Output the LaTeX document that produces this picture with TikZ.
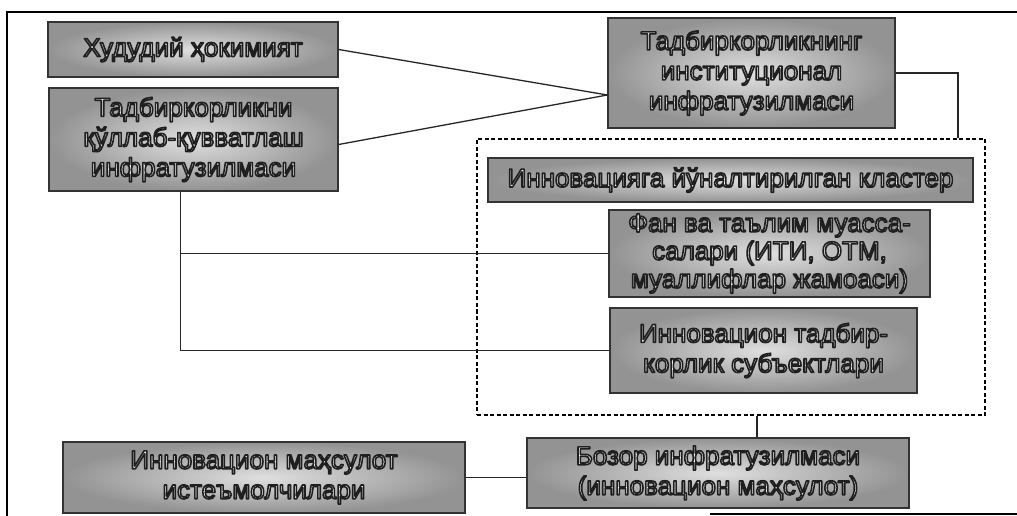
\documentclass[tikz,border=0pt]{standalone}
\usepackage{fontspec}
\setmainfont{Liberation Sans}
% white letters with a dark rim (pdf text render mode 2)
\newcommand{\gl}[1]{\special{pdf:literal direct 2 Tr 1.6 w 1 j 0.12 0.12 0.12 RG}#1\special{pdf:literal direct 0 Tr}}

\begin{document}
\begin{tikzpicture}[x=1pt,y=-1pt,
    blok/.style={draw=black!80, line width=1.2pt, inner color=gray!25, outer color=gray!85,
        text=white, align=center, inner sep=1pt, font=\fontsize{26}{30}\selectfont},
    link/.style={line width=1.3pt, draw=black!85}]
        \useasboundingbox (0,0) rectangle (1017,516);

        % Frame
        \draw[line width=1.6pt] (7,516) -- (7,12) -- (1017,12);
        \draw[line width=1.6pt] (710,514) -- (1017,514);

        % Left column
        \node[blok, minimum width=290pt, minimum height=55pt] (hok) at (193,49.5) {\gl{Худудий ҳокимият}};
        \node[blok, minimum width=289pt, minimum height=103pt] (qullab) at (193.5,139.5)
            {\gl{Тадбиркорликни}\\\gl{қўллаб-қувватлаш}\\\gl{инфратузилмаси}};

        % Right column
        \node[blok, minimum width=287pt, minimum height=110pt] (inst) at (751.5,73)
            {\gl{Тадбиркорликнинг}\\\gl{институционал}\\\gl{инфратузилмаси}};

        % Cluster
        \node[draw, line width=1.3pt, dash pattern=on 4pt off 2.5pt, minimum width=508pt, minimum height=276pt] (clu) at (731,277) {};
        \node[blok, minimum width=485pt, minimum height=44pt] (klaster) at (730.5,180) {\gl{Инновацияга йўналтирилган кластер}};
        \node[blok, minimum width=321pt, minimum height=87pt, font=\fontsize{26}{28}\selectfont] (fan) at (769.5,253.5)
            {\gl{Фан ва таълим муасса-}\\\gl{салари (ИТИ, ОТМ,}\\\gl{муаллифлар жамоаси)}};
        \node[blok, minimum width=307pt, minimum height=85pt] (subekt) at (763.5,350.5)
            {\gl{Инновацион тадбир-}\\\gl{корлик субъектлари}};

        % Bottom row
        \node[blok, minimum width=382pt, minimum height=70pt] (bozor) at (718,473)
            {\gl{Бозор инфратузилмаси}\\\gl{(инновацион маҳсулот)}};
        \node[blok, minimum width=402pt, minimum height=71pt] (istemol) at (264,477.5)
            {\gl{Инновацион маҳсулот}\\\gl{истеъмолчилари}};

        % Connections
        \coordinate (conv) at ([yshift=-22pt]inst.west);
        \draw[link] (hok.east) -- (conv);
        \draw[link] ([yshift=-5pt]qullab.east) -- (conv);
        \draw[link] (inst.east) -| ([xshift=227pt]clu.north);
        \coordinate (qs) at ([xshift=-13pt]qullab.south);
        \draw[link] (qs) |- (subekt.west);
        \draw[link] (qs |- fan.west) -- (fan.west);
        \coordinate (bz) at ([xshift=39pt]bozor.north);
        \draw[link] (bz |- clu.south) -- (bz);
        \draw[link] (istemol.east) -- (istemol.east -| bozor.west);
    \end{tikzpicture}
\end{document}
